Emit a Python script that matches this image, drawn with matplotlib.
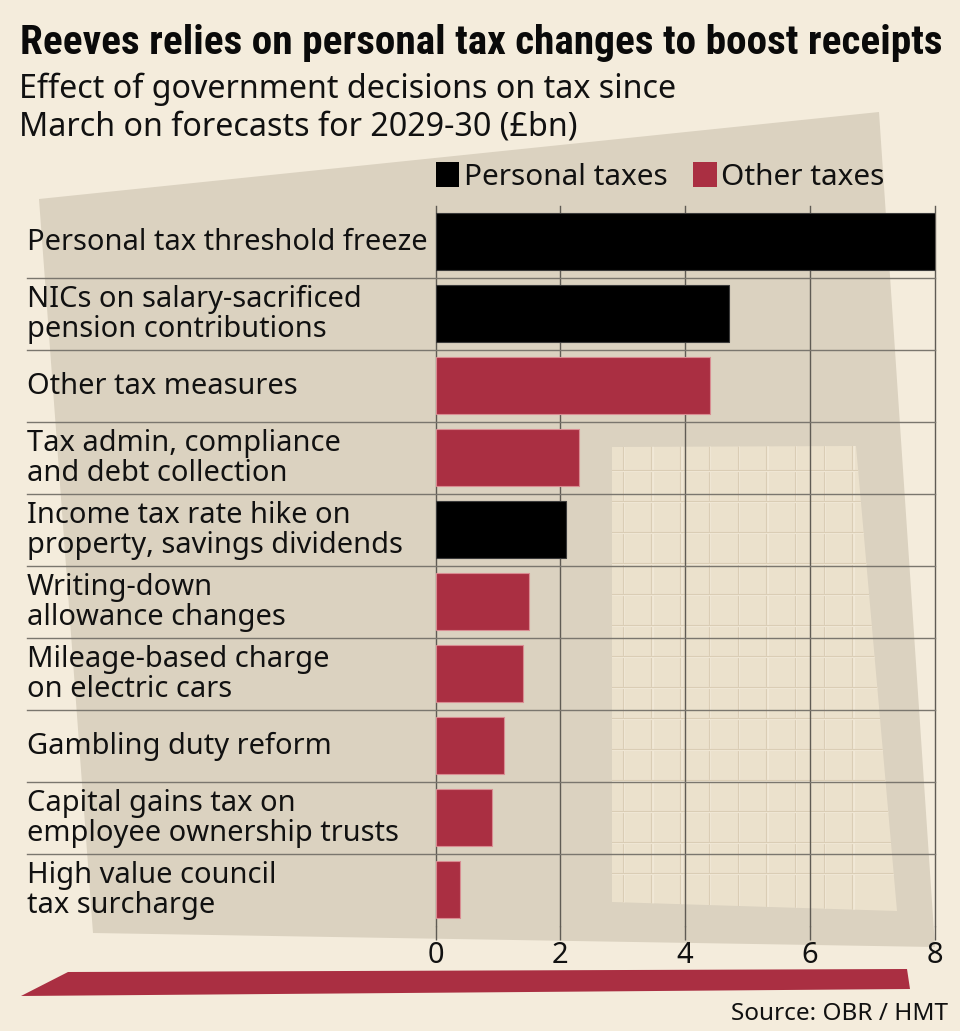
import numpy as np
import matplotlib
matplotlib.use("Agg")
import matplotlib.pyplot as plt
from matplotlib import font_manager as fm
from matplotlib.patches import Polygon, Rectangle
from matplotlib import transforms as mtrans

# ---------------- data ----------------
categories = [
    "Personal tax threshold freeze",
    "NICs on salary-sacrificed\npension contributions",
    "Other tax measures",
    "Tax admin, compliance\nand debt collection",
    "Income tax rate hike on\nproperty, savings dividends",
    "Writing-down\nallowance changes",
    "Mileage-based charge\non electric cars",
    "Gambling duty reform",
    "Capital gains tax on\nemployee ownership trusts",
    "High value council\ntax surcharge",
]
values = [8.0, 4.7, 4.4, 2.3, 2.1, 1.5, 1.4, 1.1, 0.9, 0.4]
groups = ["Personal taxes", "Personal taxes", "Other taxes", "Other taxes",
          "Personal taxes", "Other taxes", "Other taxes", "Other taxes",
          "Other taxes", "Other taxes"]
series_names = ["Personal taxes", "Other taxes"]
xticks = [0, 2, 4, 6, 8]
title = "Reeves relies on personal tax changes to boost receipts"
subtitle = ["Effect of government decisions on tax since",
            "March on forecasts for 2029-30 (£bn)"]
source = "Source: OBR / HMT"

# ---------------- style ----------------
BG = "#f4ecdc"
DARK = "#dbd2c0"
PANEL = "#ebe1cc"
RED = "#aa2f42"
BLACK = "#000000"
GRID = "#5f5b54"
SEP = "#7a766e"
series_colors = {"Personal taxes": BLACK, "Other taxes": RED}
edge_colors = {"Personal taxes": "#3a3a3a", "Other taxes": "#d98c92"}

W, H = 960, 1031
fig = plt.figure(figsize=(W / 100, H / 100), dpi=100)
fig.patch.set_facecolor(BG)
renderer = fig.canvas.get_renderer()


def px_x(x):
    return x / W


def px_y(y):
    return 1 - y / H


# font selection
def find_condensed(weight):
    prefs = ["Roboto Condensed", "Liberation Sans Narrow", "DejaVu Sans",
             "Noto Sans", "Open Sans", "Roboto", "Liberation Sans"]
    for fam in prefs:
        cands = []
        for f in fm.fontManager.ttflist:
            nm = f.name
            narrow = ("Condensed" in nm or "Narrow" in nm or
                      str(f.stretch) in ("condensed", "semi-condensed",
                                         "extra-condensed", "ultra-condensed"))
            if not narrow or f.style != "normal":
                continue
            if not nm.startswith(fam):
                continue
            try:
                w = int(f.weight)
            except Exception:
                w = 700 if "bold" in str(f.weight).lower() else 400
            cands.append((abs(w - weight), f.fname))
        if cands:
            cands.sort()
            return fm.FontProperties(fname=cands[0][1])
    return None


fp_title = find_condensed(900)
if fp_title is None:
    fp_title = fm.FontProperties(family=["Roboto", "DejaVu Sans"], weight="bold")
fp_text = fm.FontProperties(family=["Noto Sans", "DejaVu Sans"])


def width_of(fp, s, size):
    t = fig.text(0, 0, s, fontproperties=fp, fontsize=size)
    w = t.get_window_extent(renderer).width
    t.remove()
    return w


def fit_size(fp, s, target, base=20.0):
    return base * target / width_of(fp, s, base)


# ---------------- background decoration ----------------
bg = fig.add_axes([0, 0, 1, 1])
bg.set_xlim(0, W)
bg.set_ylim(H, 0)
bg.axis("off")
bg.set_zorder(0)

bg.add_patch(Polygon([(39, 199), (879, 112), (935, 947), (93, 933)],
                     closed=True, fc=DARK, ec="none"))
panel = Polygon([(612, 447), (856, 446), (897, 911), (612, 902)],
                closed=True, fc=PANEL, ec="none")
bg.add_patch(panel)
for gx in np.arange(622.7, 860, 28.7):
    for dx, col, lw in ((1.4, "#f1e8d6", 1.6), (0.0, "#dacdb5", 0.8)):
        ln, = bg.plot([gx + dx, gx + dx], [440, 915], color=col, lw=lw)
        ln.set_clip_path(panel)
for gy in np.arange(470, 880, 31.0):
    for dy, col, lw in ((1.4, "#f1e8d6", 1.6), (0.0, "#dacdb5", 0.8)):
        ln, = bg.plot([600, 905], [gy + dy, gy + dy], color=col, lw=lw)
        ln.set_clip_path(panel)

bg.add_patch(Polygon([(21, 996), (68, 972), (907, 969), (910, 989)],
                     closed=True, fc=RED, ec="none"))

# ---------------- titles ----------------
ts = fit_size(fp_title, title, 920)
fig.text(px_x(20), px_y(53.5), title, fontproperties=fp_title, fontsize=ts,
         ha="left", va="baseline", color="#0a0a0a", zorder=5)
ss = fit_size(fp_text, subtitle[0], 657)
fig.text(px_x(19), px_y(97.5), subtitle[0], fontproperties=fp_text, fontsize=ss,
         ha="left", va="baseline", color="#111111", zorder=5)
fig.text(px_x(19), px_y(136), subtitle[1], fontproperties=fp_text, fontsize=ss,
         ha="left", va="baseline", color="#111111", zorder=5)

# ---------------- legend (manual) ----------------
ls = fit_size(fp_text, series_names[0], 204)
lx = 435.5
for name in series_names:
    bg.add_patch(Rectangle((lx, 162), 23.5, 25, fc=series_colors[name], ec="none"))
    t = fig.text(px_x(lx + 28), px_y(185), name, fontproperties=fp_text,
                 fontsize=ls, ha="left", va="baseline", color="#111111", zorder=5)
    lx = lx + 28 + t.get_window_extent(renderer).width + 26

# ---------------- main axes ----------------
ax_left, ax_right, ax_top, ax_bot = 435.5, 934.5, 205.5, 925.5
ax = fig.add_axes([px_x(ax_left), px_y(ax_bot), (ax_right - ax_left) / W,
                   (ax_bot - ax_top) / H])
ax.set_zorder(2)
ax.patch.set_alpha(0)

y = np.arange(len(categories))
ax.barh(y, values, height=0.79,
        color=[series_colors[g] for g in groups],
        edgecolor=[edge_colors[g] for g in groups], linewidth=0.8, zorder=3)
ax.set_ylim(len(categories) - 0.5, -0.5)
ax.set_xlim(xticks[0], xticks[-1])
for s in ax.spines.values():
    s.set_visible(False)
ax.set_axisbelow(True)
ax.grid(axis="x", color=GRID, lw=1)
ax.grid(axis="y", visible=False)
for gl in ax.get_xgridlines():
    gl.set_clip_on(False)

lab_size = fit_size(fp_text, categories[0], 401)
ax.set_xticks(xticks)
ax.set_xticklabels([str(t) for t in xticks])
ax.tick_params(axis="x", length=10, width=1, color=GRID, pad=1,
               labelcolor="#111111")
for lab in ax.get_xticklabels():
    lab.set_fontproperties(fp_text)
    lab.set_fontsize(lab_size)
ax.tick_params(axis="y", left=False, labelleft=False)

# row separators
trans = mtrans.blended_transform_factory(fig.transFigure, ax.transData)
for i in range(len(categories) - 1):
    ax.plot([px_x(27), px_x(ax_right)], [i + 0.5, i + 0.5], transform=trans,
            color=SEP, lw=1, clip_on=False, zorder=1)

# category labels
row_px = (ax_bot - ax_top) / len(categories)
for i, cat in enumerate(categories):
    lines = cat.split("\n")
    n = len(lines)
    for k, line in enumerate(lines):
        off = 8.5 + (k - (n - 1) / 2) * 30.5
        ax.text(px_x(27), i + off / row_px, line, transform=trans,
                fontproperties=fp_text, fontsize=lab_size, ha="left",
                va="baseline", color="#111111", clip_on=False)

# source
src = fit_size(fp_text, source, 217)
fig.text(px_x(948), px_y(1020), source, fontproperties=fp_text, fontsize=src,
         ha="right", va="baseline", color="#111111", zorder=5)

fig.savefig("out.png", dpi=100, facecolor=BG)
